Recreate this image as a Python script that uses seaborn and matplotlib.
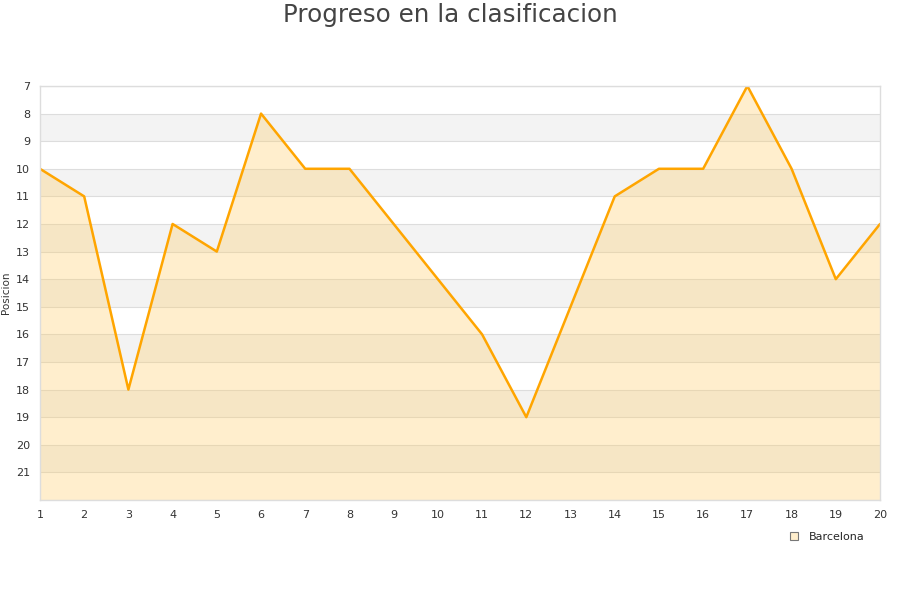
import matplotlib
matplotlib.use("Agg")
import matplotlib.pyplot as plt
import seaborn as sns
import pandas as pd

jornadas = list(range(1, 21))
posiciones = [10, 11, 18, 12, 13, 8, 10, 10, 12, 14, 16, 19, 15, 11, 10, 10, 7, 10, 14, 12]
equipo = "Barcelona"

df = pd.DataFrame({"jornada": jornadas, "posicion": posiciones})

sns.set_style("white")
plt.rcParams["font.family"] = ["DejaVu Sans"]

fig = plt.figure(figsize=(9, 6), dpi=100)
ax = fig.add_axes([0.0444, 0.1667, 0.9334, 0.69])

y_top, y_bottom = 7, 22
# alternating horizontal bands
for v in range(y_top, y_bottom):
    if (v - y_top) % 2 == 1:
        ax.axhspan(v, v + 1, color="#f3f3f3", zorder=0, lw=0)
for v in range(y_top, y_bottom + 1):
    ax.axhline(v, color="#dddddd", lw=0.8, zorder=0.5)

ax.fill_between(df["jornada"], df["posicion"], y_bottom, color="#ffcc66", alpha=0.32,
                lw=0, zorder=1)
sns.lineplot(data=df, x="jornada", y="posicion", color="#ffa500", lw=1.8, ax=ax,
             zorder=2)

ax.set_xlim(1, 20)
ax.set_ylim(y_bottom, y_top)
ax.set_xticks(jornadas)
ax.set_yticks(range(7, 22))
ax.tick_params(labelsize=8, colors="#333333", length=0, pad=7)
for s in ax.spines.values():
    s.set_color("#dddddd")
    s.set_linewidth(1)
ax.set_xlabel("")
ax.set_ylabel("Posicion", fontsize=7.5, color="#333333", labelpad=4)

fig.suptitle("Progreso en la clasificacion", fontsize=17.7, color="#444444", y=0.995)

handle = plt.Line2D([], [], marker="s", ls="", markersize=6, markerfacecolor="#ffeecc",
                    markeredgecolor="#777777", markeredgewidth=0.8)
fig.legend([handle], [equipo], loc="center", bbox_to_anchor=(0.915, 0.105), frameon=False,
           fontsize=8, handletextpad=0.3)

fig.savefig("out.png", dpi=100)
